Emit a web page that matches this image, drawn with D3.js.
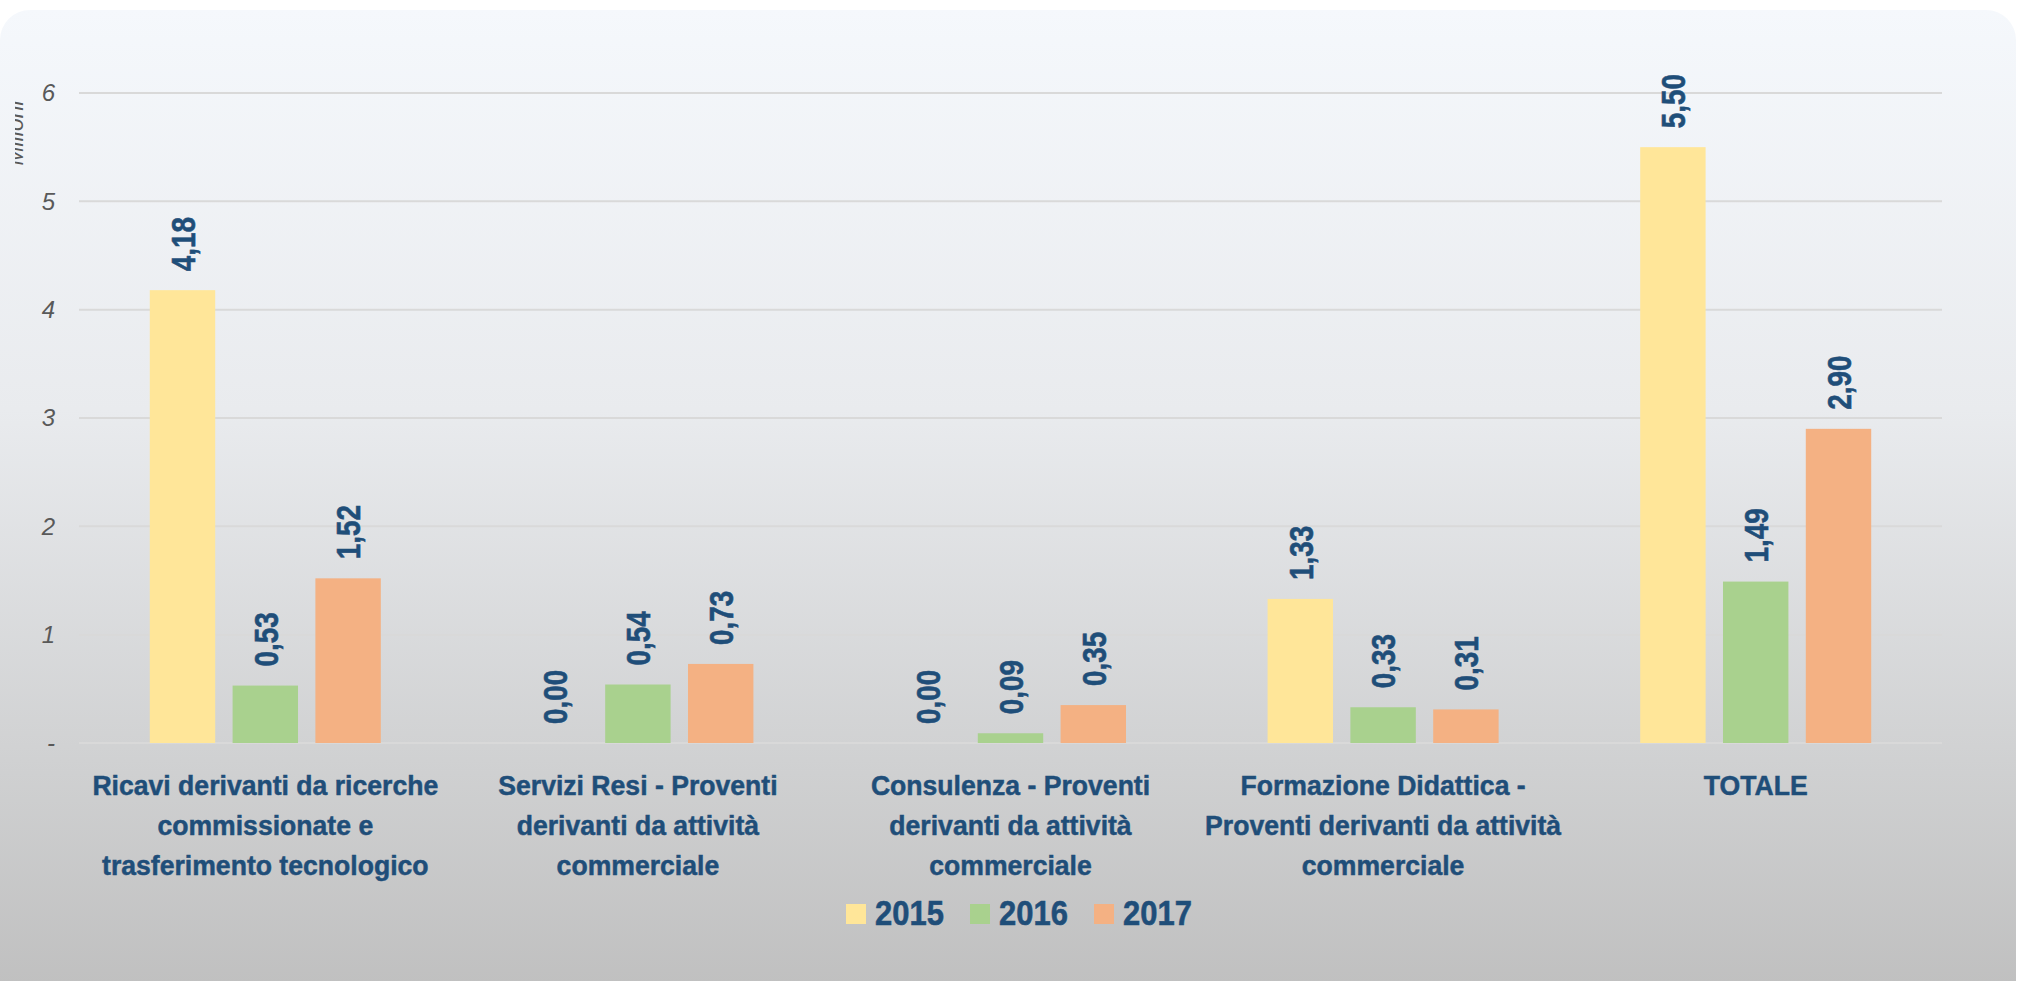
<!DOCTYPE html>
<html>
<head>
<meta charset="utf-8">
<script src="https://cdn.jsdelivr.net/npm/d3@7"></script>
<style>
  html, body { margin: 0; padding: 0; background: #ffffff; }
  svg { display: block; }
</style>
</head>
<body>
<svg id="chart" width="2020" height="981"></svg>
<script>
const categories = [
    "Ricavi derivanti da ricerche\ncommissionate e\ntrasferimento tecnologico",
    "Servizi Resi - Proventi\nderivanti da attività\ncommerciale",
    "Consulenza - Proventi\nderivanti da attività\ncommerciale",
    "Formazione Didattica -\nProventi derivanti da attività\ncommerciale",
    "TOTALE"
];
const years = ["2015", "2016", "2017"];
const values2015 = [4.18, 0.00, 0.00, 1.33, 5.50];
const values2016 = [0.53, 0.54, 0.09, 0.33, 1.49];
const values2017 = [1.52, 0.73, 0.35, 0.31, 2.90];
const yTicks = [0, 1, 2, 3, 4, 5, 6];
const yTickLabels = ["-", "1", "2", "3", "4", "5", "6"];
const axisTitle = "Milioni";

const seriesColors = ["#ffe699", "#a9d18e", "#f4b183"];
const textBlue = "#1f4e79";
// no narrow face installed: squeeze Liberation Sans Bold horizontally instead
const sans = "'Liberation Sans', Arial, sans-serif";
const squeeze = 0.82;

const series = [values2015, values2016, values2017];

const plot = { left: 79, right: 1942, top: 93, bottom: 743 };

const svg = d3.select("#chart");
const defs = svg.append("defs");

// panel background
const grad = defs.append("linearGradient")
    .attr("id", "bg")
    .attr("x1", 0).attr("y1", 0).attr("x2", 0).attr("y2", 1);
grad.append("stop").attr("offset", "0%").attr("stop-color", "#f5f8fc");
grad.append("stop").attr("offset", "40%").attr("stop-color", "#e9ebee");
grad.append("stop").attr("offset", "75%").attr("stop-color", "#d0d1d2");
grad.append("stop").attr("offset", "100%").attr("stop-color", "#bebebe");

svg.append("rect")
    .attr("x", 0).attr("y", 10)
    .attr("width", 2016).attr("height", 1000)
    .attr("rx", 30).attr("ry", 30)
    .attr("fill", "url(#bg)");

const x0 = d3.scaleBand()
    .domain(d3.range(categories.length))
    .range([plot.left, plot.right])
    .paddingInner(0).paddingOuter(0);

const x1 = d3.scaleBand()
    .domain(d3.range(years.length))
    .range([x0.bandwidth() * 0.19, x0.bandwidth() * 0.81])
    .paddingInner(0.21);

const y = d3.scaleLinear()
    .domain([0, 6])
    .range([plot.bottom, plot.top]);

// gridlines
svg.append("g")
    .selectAll("line")
    .data(yTicks)
    .join("line")
    .attr("x1", plot.left).attr("x2", plot.right)
    .attr("y1", d => y(d)).attr("y2", d => y(d))
    .attr("stroke", "#d9d9d9")
    .attr("stroke-width", 2);

// y axis labels
const yAxis = svg.append("g")
    .attr("transform", `translate(${plot.left - 24},0)`)
    .call(d3.axisLeft(y).tickValues(yTicks).tickFormat((d, i) => yTickLabels[i]).tickSize(0).tickPadding(0));
yAxis.select(".domain").remove();
yAxis.selectAll("text")
    .attr("font-family", sans)
    .attr("font-style", "italic")
    .attr("font-size", 24)
    .attr("fill", "#595959");

// axis title, clipped at the left like in the original
defs.append("clipPath").attr("id", "titleClip")
    .append("rect").attr("x", 15).attr("y", 0).attr("width", 40).attr("height", 300);
svg.append("g")
    .attr("clip-path", "url(#titleClip)")
    .append("text")
    .attr("transform", "translate(23,133) rotate(-90)")
    .attr("text-anchor", "middle")
    .attr("font-family", sans)
    .attr("font-style", "italic")
    .attr("font-size", 23)
    .attr("fill", "#595959")
    .text(axisTitle);

// bars
const groups = svg.append("g")
    .selectAll("g")
    .data(series)
    .join("g")
    .attr("fill", (d, i) => seriesColors[i]);

groups.each(function (vals, si) {
    d3.select(this).selectAll("rect")
        .data(vals)
        .join("rect")
        .attr("x", (d, ci) => x0(ci) + x1(si))
        .attr("y", d => y(d))
        .attr("width", x1.bandwidth())
        .attr("height", d => y(0) - y(d));
});

// value labels
const fmt = v => v.toFixed(2).replace(".", ",");
groups.each(function (vals, si) {
    d3.select(this).selectAll("text")
        .data(vals)
        .join("text")
        .attr("transform", (d, ci) =>
            `translate(${x0(ci) + x1(si) + x1.bandwidth() / 2},${y(d) - 19}) rotate(-90) scale(${squeeze},1)`)
        .attr("dy", "0.36em")
        .attr("text-anchor", "start")
        .attr("font-family", sans)
        .attr("font-weight", "bold")
        .attr("font-size", 34)
        .attr("fill", textBlue)
        .attr("stroke", textBlue)
        .attr("stroke-width", 0.6)
        .text(d => fmt(d));
});

// category labels
const catLabels = svg.append("g")
    .selectAll("text")
    .data(categories)
    .join("text")
    .attr("transform", (d, i) => `translate(${x0(i) + x0.bandwidth() / 2},795) scale(0.95,1)`)
    .attr("text-anchor", "middle")
    .attr("font-family", sans)
    .attr("font-weight", "bold")
    .attr("font-size", 28)
    .attr("fill", textBlue)
    .attr("stroke", textBlue)
    .attr("stroke-width", 0.5);

catLabels.each(function (d) {
    const t = d3.select(this);
    d.split("\n").forEach((line, li) => {
        t.append("tspan")
            .attr("x", 0)
            .attr("dy", li === 0 ? 0 : 40)
            .text(line);
    });
});

// legend
const legend = svg.append("g")
    .selectAll("g")
    .data(years)
    .join("g")
    .attr("transform", (d, i) => `translate(${846 + i * 124},904)`);

legend.append("rect")
    .attr("width", 20).attr("height", 20)
    .attr("fill", (d, i) => seriesColors[i]);

legend.append("text")
    .attr("transform", `translate(29,21) scale(0.86,1)`)
    .attr("font-family", sans)
    .attr("font-weight", "bold")
    .attr("font-size", 36)
    .attr("fill", textBlue)
    .attr("stroke", textBlue)
    .attr("stroke-width", 0.6)
    .text(d => d);
</script>
</body>
</html>
